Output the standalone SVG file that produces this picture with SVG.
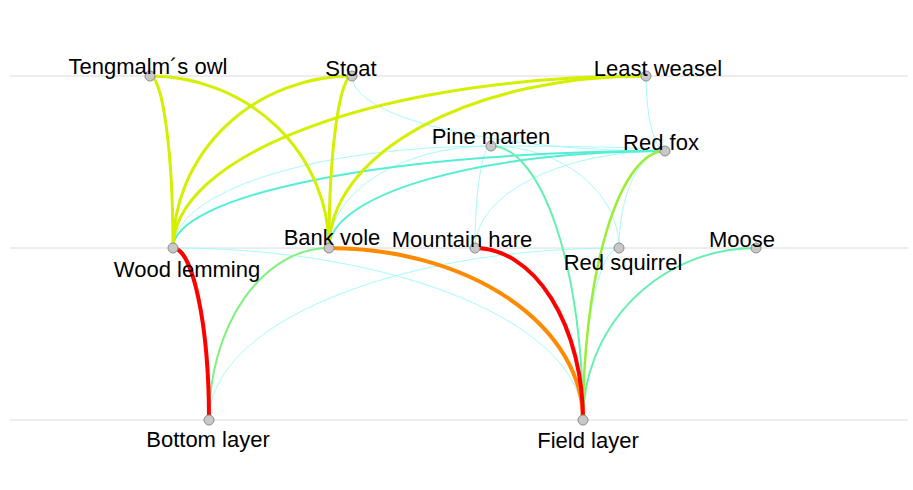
<svg xmlns="http://www.w3.org/2000/svg" width="913" height="490" viewBox="0 0 913 490">
<style>
.grid{stroke:#dadada;stroke-width:1}
.e{fill:none}
.c1{stroke:#a8fafa;stroke-width:1}
.c2{stroke:#55eed5;stroke-width:2}
.c3{stroke:#66f0b0;stroke-width:2}
.c4{stroke:#80f080;stroke-width:2}
.c5{stroke:#9cee35;stroke-width:2.5}
.c6{stroke:#d4ef00;stroke-width:3}
.c7{stroke:#ff8a00;stroke-width:4}
.c8{stroke:#ff0000;stroke-width:4}
.n circle{fill:#c8c8c8;stroke:#8c8c8c;stroke-width:1}
.n text{font-family:"Liberation Sans",Arial,sans-serif;font-size:22px;fill:#000;text-anchor:middle}
</style>
<rect width="913" height="490" fill="#fff"/>
<g id="gridlines">
<line class="grid" x1="10" y1="76" x2="908" y2="76"/>
<line class="grid" x1="10" y1="248" x2="908" y2="248"/>
<line class="grid" x1="10" y1="420" x2="908" y2="420"/>
</g>
<g id="connectors" class="e">
<path class="c1" d="M352,76 A313,75 0 0,0 665,151"/>
<path class="c1" d="M646,76 A19,75 0 0,0 665,151"/>
<path class="c1" d="M491,146 A318,102 0 0,0 173,248"/>
<path class="c1" d="M491,146 A162,102 0 0,0 329,248"/>
<path class="c1" d="M491,146 A174,5 0 0,1 665,151"/>
<path class="c1" d="M491,146 A16,102 0 0,0 475,248"/>
<path class="c1" d="M491,146 A128,102 0 0,1 619,248"/>
<path class="c1" d="M665,151 A190,97 0 0,0 475,248"/>
<path class="c1" d="M665,151 A46,97 0 0,0 619,248"/>
<path class="c1" d="M173,248 A410,172 0 0,1 583,420"/>
<path class="c1" d="M619,248 A410,172 0 0,0 209,420"/>
<path class="c1" d="M619,248 A36,172 0 0,0 583,420"/>
<path class="c2" d="M665,151 A492,97 0 0,0 173,248"/>
<path class="c2" d="M665,151 A336,97 0 0,0 329,248"/>
<path class="c3" d="M491,146 A92,274 0 0,1 583,420"/>
<path class="c3" d="M756,248 A173,172 0 0,0 583,420"/>
<path class="c4" d="M329,248 A120,172 0 0,0 209,420"/>
<path class="c5" d="M665,151 A82,269 0 0,0 583,420"/>
<path class="c6" d="M150,76 A23,172 0 0,1 173,248"/>
<path class="c6" d="M150,76 A179,172 0 0,1 329,248"/>
<path class="c6" d="M352,76 A179,172 0 0,0 173,248"/>
<path class="c6" d="M352,76 A23,172 0 0,0 329,248"/>
<path class="c6" d="M646,76 A473,172 0 0,0 173,248"/>
<path class="c6" d="M646,76 A317,172 0 0,0 329,248"/>
<path class="c7" d="M329,248 A254,172 0 0,1 583,420"/>
<path class="c8" d="M475,248 A108,172 0 0,1 583,420"/>
<path class="c8" d="M173,248 A36,172 0 0,1 209,420"/>
</g>
<g id="node-owl" class="n"><circle cx="150" cy="76" r="5"/><text x="148" y="74">Tengmalm´s owl</text></g>
<g id="node-stoat" class="n"><circle cx="352" cy="76" r="5"/><text x="351" y="76">Stoat</text></g>
<g id="node-weasel" class="n"><circle cx="646" cy="76" r="5"/><text x="658" y="76">Least weasel</text></g>
<g id="node-pinemarten" class="n"><circle cx="491" cy="146" r="5"/><text x="491" y="144">Pine marten</text></g>
<g id="node-redfox" class="n"><circle cx="665" cy="151" r="5"/><text x="661" y="150">Red fox</text></g>
<g id="node-woodlemming" class="n"><circle cx="173" cy="248" r="5"/><text x="187" y="277">Wood lemming</text></g>
<g id="node-bankvole" class="n"><circle cx="329" cy="248" r="5"/><text x="332" y="245">Bank vole</text></g>
<g id="node-mountainhare" class="n"><circle cx="475" cy="248" r="5"/><text x="462" y="247">Mountain hare</text></g>
<g id="node-redsquirrel" class="n"><circle cx="619" cy="248" r="5"/><text x="623" y="270">Red squirrel</text></g>
<g id="node-moose" class="n"><circle cx="756" cy="248" r="5"/><text x="742" y="247">Moose</text></g>
<g id="node-bottomlayer" class="n"><circle cx="209" cy="420" r="5"/><text x="208" y="447">Bottom layer</text></g>
<g id="node-fieldlayer" class="n"><circle cx="583" cy="420" r="5"/><text x="588" y="448">Field layer</text></g>
</svg>
